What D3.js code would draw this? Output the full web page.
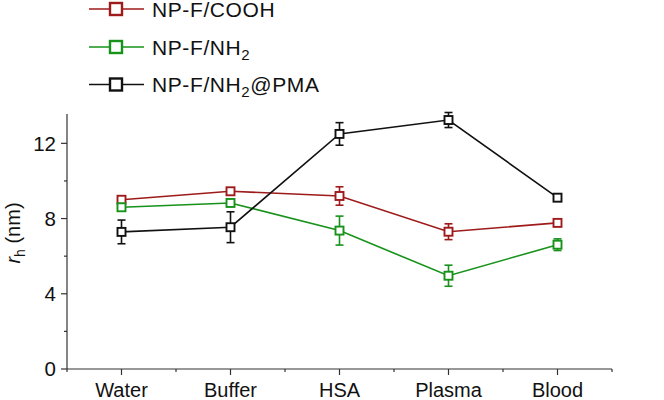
<html>
<head>
<meta charset="utf-8">
<style>
  body { margin: 0; background: #fff; }
  text { font-family: "Liberation Sans", Arial, Helvetica, sans-serif; }
</style>
</head>
<body>
<svg width="664" height="400"></svg>
<script src="https://d3js.org/d3.v7.min.js"></script>
<script>
// media the particles were measured in
var media = ["Water", "Buffer", "HSA", "Plasma", "Blood"]

// hydrodynamic radius (nm) and error for each formulation
var coohValues = [9.0, 9.45, 9.2, 7.3, 7.77]
var coohErrors = [0.15, 0.12, 0.49, 0.42, 0.12]
var nh2Values = [8.6, 8.83, 7.36, 4.96, 6.61]
var nh2Errors = [0.12, 0.15, 0.77, 0.56, 0.31]
var pmaValues = [7.29, 7.54, 12.5, 13.24, 9.11]
var pmaErrors = [0.63, 0.82, 0.6, 0.4, 0.1]

var seriesNames = ["NP-F/COOH", "NP-F/NH2", "NP-F/NH2@PMA"]
var seriesColors = ["#9e1b1b", "#17921a", "#111111"]
var yTicks = [0, 4, 8, 12]
var yMinorTicks = [2, 6, 10]

var series = [
  { name: seriesNames[0], color: seriesColors[0], values: coohValues, errors: coohErrors },
  { name: seriesNames[1], color: seriesColors[1], values: nh2Values, errors: nh2Errors },
  { name: seriesNames[2], color: seriesColors[2], values: pmaValues, errors: pmaErrors }
]

var svg = d3.select("svg")
var plotLeft = 67, plotRight = 612, plotTop = 114, plotBottom = 369

// x is a linear index scale so the axis can have half-step minor ticks
var x = d3.scaleLinear().domain([-0.5, 4.5]).range([plotLeft, plotRight])
var y = d3.scaleLinear().domain([0, 13.56]).range([plotBottom, plotTop])

// axes
var axisColor = "#333"
var gx = svg.append("g").attr("transform", "translate(0," + plotBottom + ")")
gx.append("line").attr("x1", plotLeft).attr("x2", plotRight).attr("stroke", axisColor).attr("stroke-width", 1.2)
var xMinor = d3.range(-0.5, 4.6, 1)
gx.selectAll(".minor").data(xMinor).enter().append("line")
  .attr("x1", function (d) { return x(d) }).attr("x2", function (d) { return x(d) })
  .attr("y1", 0).attr("y2", 3).attr("stroke", axisColor).attr("stroke-width", 1.2)
gx.selectAll(".major").data(media).enter().append("line")
  .attr("x1", function (d, i) { return x(i) }).attr("x2", function (d, i) { return x(i) })
  .attr("y1", 0).attr("y2", 6).attr("stroke", axisColor).attr("stroke-width", 1.2)
gx.selectAll("text").data(media).enter().append("text")
  .attr("x", function (d, i) { return x(i) }).attr("y", 28)
  .attr("text-anchor", "middle").attr("font-size", 20).attr("fill", "#111")
  .text(function (d) { return d })

var gy = svg.append("g").attr("transform", "translate(" + plotLeft + ",0)")
gy.append("line").attr("y1", plotTop).attr("y2", plotBottom).attr("stroke", axisColor).attr("stroke-width", 1.2)
gy.selectAll(".minor").data(yMinorTicks).enter().append("line")
  .attr("y1", function (d) { return y(d) }).attr("y2", function (d) { return y(d) })
  .attr("x1", 0).attr("x2", -3).attr("stroke", axisColor).attr("stroke-width", 1.2)
gy.selectAll(".major").data(yTicks).enter().append("line")
  .attr("y1", function (d) { return y(d) }).attr("y2", function (d) { return y(d) })
  .attr("x1", 0).attr("x2", -6).attr("stroke", axisColor).attr("stroke-width", 1.2)
gy.selectAll("text").data(yTicks).enter().append("text")
  .attr("x", -11).attr("y", function (d) { return y(d) }).attr("dy", "0.36em")
  .attr("text-anchor", "end").attr("font-size", 20.5).attr("fill", "#111")
  .text(function (d) { return d })

// y axis title: italic r with subscript h
var yt = svg.append("text").attr("transform", "translate(20,233) rotate(-90)")
  .attr("text-anchor", "middle").attr("font-size", 20).attr("fill", "#111")
yt.append("tspan").attr("font-style", "italic").text("r")
yt.append("tspan").attr("font-size", 14).attr("dy", 5).text("h")
yt.append("tspan").attr("dy", -5).text(" (nm)")

// lines, error bars and markers
var line = d3.line().x(function (d, i) { return x(i) }).y(function (d) { return y(d) })
series.forEach(function (s) {
  var g = svg.append("g")
  g.append("path").attr("d", line(s.values)).attr("fill", "none")
    .attr("stroke", s.color).attr("stroke-width", 1.6)
  s.values.forEach(function (v, i) {
    var e = s.errors[i]
    var cx = x(i)
    g.append("line").attr("x1", cx).attr("x2", cx).attr("y1", y(v + e)).attr("y2", y(v - e))
      .attr("stroke", s.color).attr("stroke-width", 1.6)
    ;[v + e, v - e].forEach(function (w) {
      g.append("line").attr("x1", cx - 4).attr("x2", cx + 4).attr("y1", y(w)).attr("y2", y(w))
        .attr("stroke", s.color).attr("stroke-width", 1.6)
    })
    g.append("rect").attr("x", cx - 4).attr("y", y(v) - 4).attr("width", 8).attr("height", 8)
      .attr("fill", "#fff").attr("stroke", s.color).attr("stroke-width", 1.9)
  })
})

// legend
var legY = [9, 47, 84.5]
var leg = svg.append("g")
series.forEach(function (s, i) {
  var ly = legY[i]
  leg.append("line").attr("x1", 89).attr("x2", 144).attr("y1", ly).attr("y2", ly)
    .attr("stroke", s.color).attr("stroke-width", 1.6)
  leg.append("rect").attr("x", 110).attr("y", ly - 6).attr("width", 12).attr("height", 12)
    .attr("fill", "#fff").attr("stroke", s.color).attr("stroke-width", 2.4)
  var t = leg.append("text").attr("x", 152).attr("y", ly).attr("dy", "0.36em")
    .attr("font-size", 21).attr("letter-spacing", 0.6).attr("fill", "#111")
  if (i === 0) {
    t.text("NP-F/COOH")
  } else {
    t.append("tspan").text("NP-F/NH")
    t.append("tspan").attr("font-size", 15).attr("dy", 5).text("2")
    if (i === 2) t.append("tspan").attr("dy", -5).text("@PMA")
  }
})
</script>
</body>
</html>
